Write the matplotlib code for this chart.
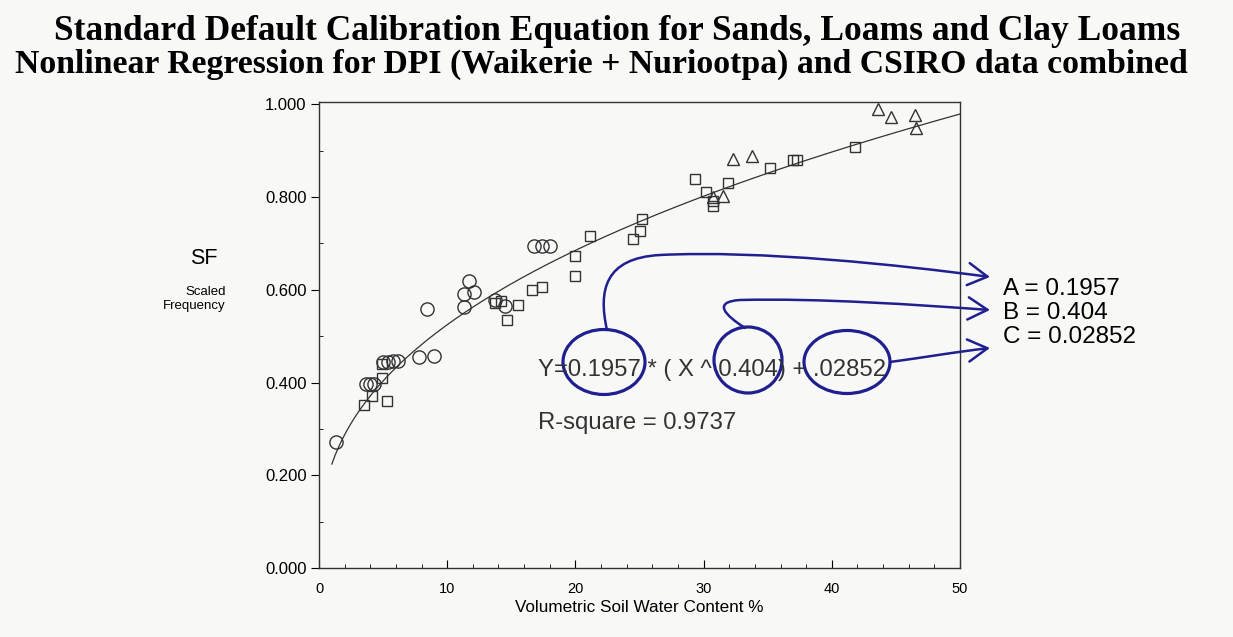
import numpy as np
import matplotlib.pyplot as plt
from matplotlib.patches import Ellipse, FancyArrowPatch
from matplotlib.path import Path
from matplotlib.ticker import MultipleLocator, FormatStrFormatter

plt.rcParams['font.family'] = ['Liberation Sans', 'DejaVu Sans']

# DPI (Waikerie) - circles
circ_x = [1.3, 3.7, 4.0, 4.3, 5.0, 5.4, 5.8, 6.2, 7.8, 9.0, 8.4,
          11.3, 11.7, 12.1, 11.3, 13.7, 14.5, 16.8, 17.4, 18.0]
circ_y = [0.272, 0.397, 0.397, 0.397, 0.445, 0.445, 0.447, 0.447, 0.455, 0.458, 0.558,
          0.590, 0.620, 0.595, 0.563, 0.578, 0.565, 0.695, 0.695, 0.695]

# DPI (Nuriootpa) - squares
sq_x = [3.5, 4.1, 4.9, 5.3, 4.9, 13.7, 14.2, 14.7, 15.5, 16.6, 17.4,
        20.0, 20.0, 21.1, 24.5, 25.0, 25.2, 29.3, 30.2, 30.7, 30.7,
        31.9, 35.2, 37.0, 37.3, 41.8]
sq_y = [0.352, 0.372, 0.410, 0.360, 0.440, 0.572, 0.575, 0.535, 0.568, 0.600, 0.605,
        0.630, 0.672, 0.715, 0.710, 0.727, 0.752, 0.838, 0.810, 0.780, 0.792,
        0.830, 0.862, 0.879, 0.879, 0.907]

# CSIRO - triangles
tri_x = [30.7, 31.5, 32.3, 33.8, 43.6, 44.6, 46.5, 46.6]
tri_y = [0.800, 0.802, 0.882, 0.888, 0.990, 0.972, 0.978, 0.950]

# fitted coefficients
A, B, C = 0.1957, 0.404, 0.02852
r_square = 0.9737

W, H = 1233, 637
fig = plt.figure(figsize=(W / 100, H / 100), dpi=100)
fig.patch.set_facecolor('#f8f8f7')

ax = fig.add_axes([319 / W, 1 - 568 / H, (960 - 319) / W, (568 - 102) / H])
ax.set_facecolor('#f8f8f7')

xf = np.linspace(1, 50, 200)
ax.plot(xf, A * xf ** B + C, color='#333333', lw=0.9)

mk = dict(linestyle='none', markerfacecolor='none', markeredgecolor='#333333', markeredgewidth=1.0)
ax.plot(circ_x, circ_y, 'o', markersize=9.5, **mk)
ax.plot(sq_x, sq_y, 's', markersize=7.5, **mk)
ax.plot(tri_x, tri_y, '^', markersize=8.5, **mk)

ax.set_xlim(0, 50)
ax.set_ylim(0, 1.005)
ax.xaxis.set_major_locator(MultipleLocator(10))
ax.xaxis.set_minor_locator(MultipleLocator(2))
ax.yaxis.set_major_locator(MultipleLocator(0.2))
ax.yaxis.set_minor_locator(MultipleLocator(0.1))
ax.yaxis.set_major_formatter(FormatStrFormatter('%.3f'))
ax.tick_params(axis='x', which='both', direction='in', labelsize=10.5, pad=10)
ax.tick_params(axis='x', which='major', length=6)
ax.tick_params(axis='x', which='minor', length=3)
ax.tick_params(axis='y', which='major', direction='out', length=6, labelsize=12, pad=3)
ax.tick_params(axis='y', which='minor', direction='in', length=3)
for s in ax.spines.values():
    s.set_color('#333333')
    s.set_linewidth(1.0)
ax.set_xlabel('Volumetric Soil Water Content %', fontsize=12.3, labelpad=3)

# left-side axis captions
fig.text(204 / W, 1 - 258 / H, 'SF', fontsize=15.5, ha='center', va='center')
fig.text(226 / W, 1 - 299 / H, 'Scaled\nFrequency', fontsize=9.5, ha='right', va='center',
         linespacing=1.15)

# title
fig.text(617 / W, 1 - 31 / H, 'Standard Default Calibration Equation for Sands, Loams and Clay Loams',
         family='Liberation Serif', fontsize=25.5, fontweight='bold', ha='center', va='center')
fig.text(601 / W, 1 - 64 / H, 'Nonlinear Regression for DPI (Waikerie + Nuriootpa) and CSIRO data combined',
         family='Liberation Serif', fontsize=24.3, fontweight='bold', ha='center', va='center')

# equation and fit quality
fig.text(538 / W, 1 - 370 / H, f'Y={A} * ( X ^ {B}) + {str(C)[1:]}', fontsize=17.2,
         ha='left', va='center', color='#333333')
fig.text(538 / W, 1 - 423 / H, f'R-square = {r_square}', fontsize=17.2,
         ha='left', va='center', color='#333333')

# hand-drawn markup overlay in pixel coordinates
ov = fig.add_axes([0, 0, 1, 1])
ov.set_xlim(0, W)
ov.set_ylim(H, 0)
ov.axis('off')
ov.patch.set_alpha(0)

blue = '#1f1f8f'
for cx, cy, w, h in [(604, 362, 82, 65), (748, 360, 68, 66), (847, 362, 86, 63)]:
    ov.add_patch(Ellipse((cx, cy), w, h, fill=False, edgecolor=blue, lw=2.3))

curves = [
    [(607, 330), (598, 290), (605, 258), (660, 255), (760, 250), (900, 265), (990, 277)],
    [(745, 328), (725, 315), (712, 302), (740, 300), (820, 298), (920, 305), (990, 310)],
    [(890, 362), (920, 358), (955, 352), (990, 348)],
]
for pts in curves:
    codes = [Path.MOVETO] + [Path.CURVE4] * (len(pts) - 1)
    ov.add_patch(FancyArrowPatch(path=Path(pts, codes), arrowstyle='->,head_length=1.4,head_width=0.8',
                                 mutation_scale=10, color=blue, lw=1.8))

for i, (name, val) in enumerate([('A', A), ('B', B), ('C', C)]):
    ov.text(1003, 289 + i * 24, f'{name} = {val}', fontsize=17.5, ha='left', va='center')

fig.savefig('out.png', dpi=100, facecolor=fig.get_facecolor())
